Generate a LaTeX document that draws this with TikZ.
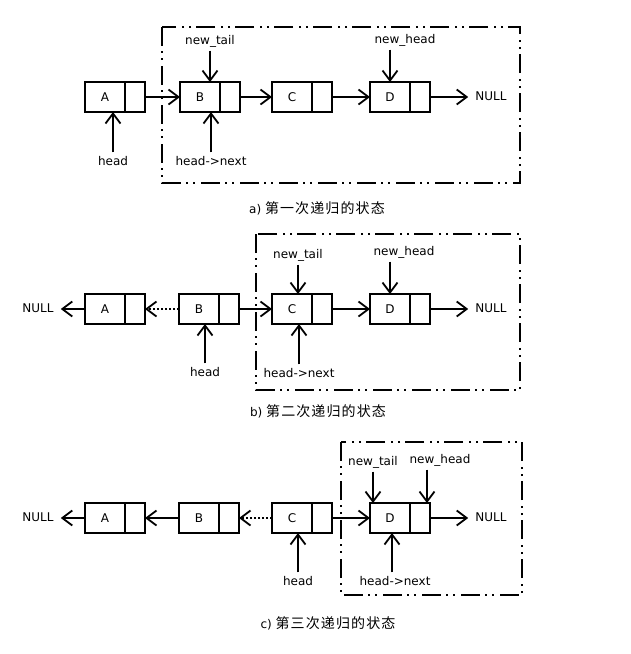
\documentclass[tikz,border=0pt]{standalone}
\usepackage{fontspec}
\setmainfont{DejaVu Sans}
\newfontfamily\cjk[LetterSpace=8]{Noto Sans CJK SC}
\usetikzlibrary{arrows.meta}

\tikzset{
  datcell/.style={draw,line width=1.8pt,outer sep=0pt,minimum width=40pt,minimum height=30pt,inner sep=0pt,font=\fontsize{12}{14}\selectfont},
  ptrcell/.style={draw,line width=1.8pt,outer sep=0pt,minimum width=20pt,minimum height=30pt,inner sep=0pt},
  link/.style={line width=1.8pt,-{Straight Barb[length=10pt,width=15pt,line width=1.8pt]}},
  oldlink/.style={link,dash pattern=on 2pt off 2pt},
  recframe/.style={line width=1.8pt,dash pattern=on 19pt off 5pt on 2pt off 5pt on 2pt off 6pt},
  lbl/.style={font=\fontsize{12}{14}\selectfont,inner sep=4pt,text height=9pt,text depth=2pt},
  nullend/.style={lbl,inner xsep=7pt},
  capt/.style={font=\fontsize{12}{14}\selectfont,inner sep=0pt}
}

\newcommand{\listcell}[4]{%
  \node[datcell] (#1) at (#2,#3) {#4};
  \node[ptrcell,anchor=west] (#1p) at (#1.east) {};
}

\begin{document}
\begin{tikzpicture}[x=1pt,y=-1pt]
  \useasboundingbox (0,0) rectangle (630,654);

  \listcell{aA}{105}{97}{A}
  \listcell{aB}{200}{97}{B}
  \listcell{aC}{292}{97}{C}
  \listcell{aD}{390}{97}{D}
  \node[nullend] (anull) at (491,97) {NULL};
  \draw[link] (aAp.east) -- (aB.west);
  \draw[link] (aBp.east) -- (aC.west);
  \draw[link] (aCp.east) -- (aD.west);
  \draw[link] (aDp.east) -- (anull.west);
  \node[lbl] (atail) at (210,41) {new\_tail};
  \draw[link] (atail.south) -- (atail.south |- aB.north);
  \node[lbl] (anhead) at (405,40) {new\_head};
  \draw[link] (anhead.south -| aD) -- (aD.north);
  \node[lbl] (ahead) at (113,162) {head};
  \draw[link] (ahead.north) -- (ahead.north |- aA.south);
  \node[lbl] (anext) at (211,162) {head->next};
  \draw[link] (anext.north) -- (anext.north |- aB.south);
  \draw[recframe] (162,27) rectangle (520,183);
  \node[capt] (acap) at (317,208) {a) {\cjk\fontsize{14}{16}\selectfont 第一次递归的状态}};

  \listcell{bA}{105}{309}{A}
  \listcell{bB}{199}{309}{B}
  \listcell{bC}{292}{309}{C}
  \listcell{bD}{390}{309}{D}
  \node[nullend] (bnullL) at (38,309) {NULL};
  \node[nullend] (bnull) at (491,309) {NULL};
  \draw[link] (bA.west) -- (bnullL.east);
  \draw[oldlink] (bB.west) -- (bAp.east);
  \draw[link] (bBp.east) -- (bC.west);
  \draw[link] (bCp.east) -- (bD.west);
  \draw[link] (bDp.east) -- (bnull.west);
  \node[lbl] (btail) at (298,255) {new\_tail};
  \draw[link] (btail.south) -- (btail.south |- bC.north);
  \node[lbl] (bnhead) at (404,252) {new\_head};
  \draw[link] (bnhead.south -| bD) -- (bD.north);
  \node[lbl] (bhead) at (205,373) {head};
  \draw[link] (bhead.north) -- (bhead.north |- bB.south);
  \node[lbl] (bnext) at (299,374) {head->next};
  \draw[link] (bnext.north) -- (bnext.north |- bC.south);
  \draw[recframe] (256,234) rectangle (520,390);
  \node[capt] (bcap) at (318,411) {b) {\cjk\fontsize{14}{16}\selectfont 第二次递归的状态}};

  \listcell{cA}{105}{518}{A}
  \listcell{cB}{199}{518}{B}
  \listcell{cC}{292}{518}{C}
  \listcell{cD}{390}{518}{D}
  \node[nullend] (cnullL) at (38,518) {NULL};
  \node[nullend] (cnull) at (491,518) {NULL};
  \draw[link] (cA.west) -- (cnullL.east);
  \draw[link] (cB.west) -- (cAp.east);
  \draw[oldlink] (cC.west) -- (cBp.east);
  \draw[link] (cCp.east) -- (cD.west);
  \draw[link] (cDp.east) -- (cnull.west);
  \node[lbl] (ctail) at (373,462) {new\_tail};
  \draw[link] (ctail.south) -- (ctail.south |- cD.north);
  \node[lbl] (cnhead) at (440,460) {new\_head};
  \draw[link] ([xshift=-13pt]cnhead.south) -- ([xshift=-13pt]cnhead.south |- cD.north);
  \node[lbl] (chead) at (298,582) {head};
  \draw[link] (chead.north) -- (chead.north |- cC.south);
  \node[lbl] (cnext) at (395,582) {head->next};
  \draw[link] ([xshift=-3pt]cnext.north) -- ([xshift=-3pt]cnext.north |- cD.south);
  \draw[recframe] (341,442) rectangle (522,595);
  \node[capt] (ccap) at (328,623) {c) {\cjk\fontsize{14}{16}\selectfont 第三次递归的状态}};
\end{tikzpicture}
\end{document}
